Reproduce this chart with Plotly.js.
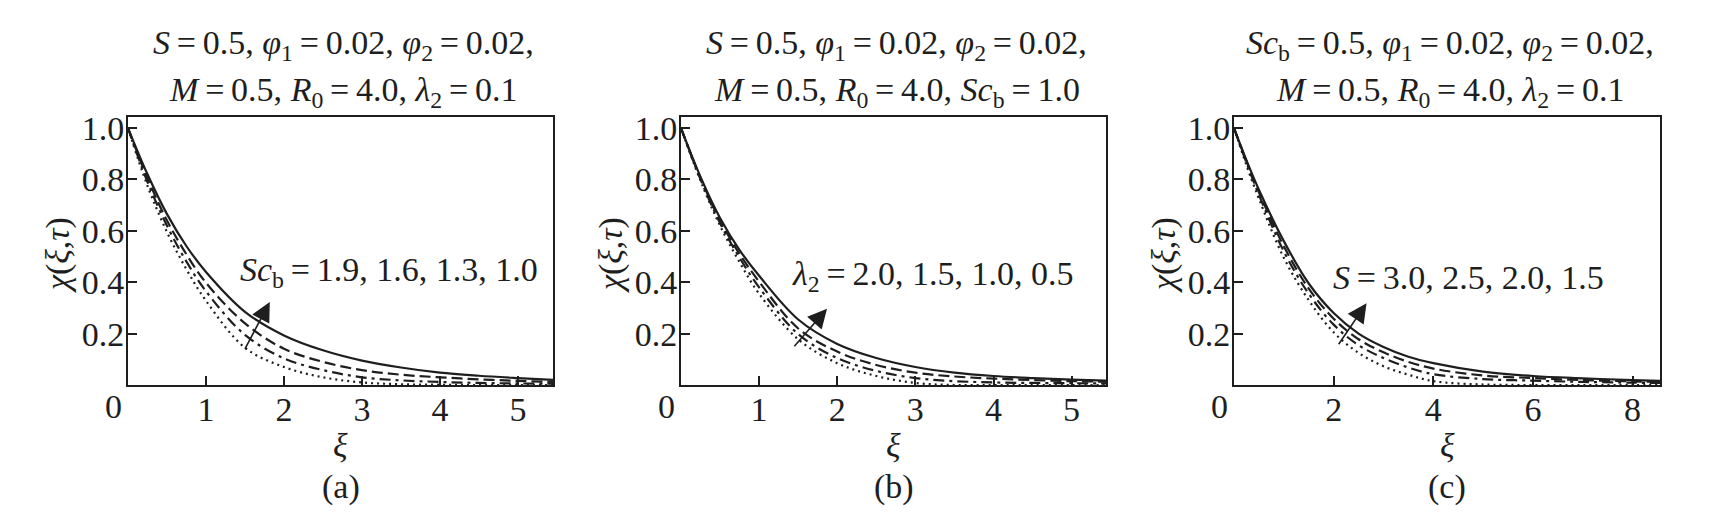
<!DOCTYPE html>
<html><head><meta charset="utf-8">
<script src="https://cdn.plot.ly/plotly-3.0.1.min.js"></script>
<style>html,body{margin:0;padding:0;background:#fff;}</style>
</head><body><div id="chart" style="width:1715px;height:523px;"></div>
<script>
// ---- Panel (a): varying Sc_b ----
const xiA = [0, 0.25, 0.5, 0.75, 1.0, 1.5, 2.0, 2.5, 3.0, 3.5, 4.0, 4.5, 5.0, 5.45];
const a_Sc10 = [1, 0.82, 0.665, 0.54, 0.44, 0.285, 0.193, 0.135, 0.095, 0.068, 0.048, 0.036, 0.027, 0.02];
const a_Sc13 = [1, 0.805, 0.64, 0.508, 0.398, 0.24, 0.141, 0.09, 0.058, 0.04, 0.03, 0.022, 0.016, 0.012];
const a_Sc16 = [1, 0.79, 0.62, 0.48, 0.365, 0.195, 0.104, 0.058, 0.03, 0.018, 0.012, 0.008, 0.006, 0.005];
const a_Sc19 = [1, 0.775, 0.595, 0.45, 0.328, 0.145, 0.07, 0.03, 0.01, 0.003, 0.001, 0, 0, 0];

// ---- Panel (b): varying lambda_2 ----
const xiB = [0, 0.25, 0.5, 0.75, 1.0, 1.5, 2.0, 2.5, 3.0, 3.5, 4.0, 4.5, 5.0, 5.44];
const b_l05 = [1, 0.81, 0.65, 0.525, 0.425, 0.255, 0.16, 0.105, 0.07, 0.048, 0.035, 0.027, 0.021, 0.017];
const b_l10 = [1, 0.805, 0.64, 0.51, 0.402, 0.22, 0.13, 0.078, 0.048, 0.033, 0.025, 0.019, 0.015, 0.013];
const b_l15 = [1, 0.8, 0.63, 0.495, 0.38, 0.198, 0.105, 0.055, 0.027, 0.015, 0.01, 0.008, 0.007, 0.006];
const b_l20 = [1, 0.795, 0.62, 0.478, 0.355, 0.178, 0.085, 0.035, 0.008, 0, 0, 0, 0, 0];

// ---- Panel (c): varying S ----
const xiC = [0, 0.25, 0.5, 1.0, 1.5, 2.0, 2.5, 3.0, 3.5, 4.0, 5.0, 6.0, 7.0, 8.0, 8.55];
const c_S15 = [1, 0.875, 0.76, 0.56, 0.395, 0.28, 0.2, 0.148, 0.11, 0.085, 0.052, 0.035, 0.026, 0.019, 0.016];
const c_S20 = [1, 0.87, 0.75, 0.54, 0.375, 0.258, 0.178, 0.127, 0.09, 0.064, 0.037, 0.027, 0.019, 0.014, 0.012];
const c_S25 = [1, 0.865, 0.74, 0.52, 0.355, 0.235, 0.155, 0.105, 0.068, 0.042, 0.023, 0.017, 0.012, 0.009, 0.008];
const c_S30 = [1, 0.855, 0.725, 0.495, 0.33, 0.205, 0.125, 0.073, 0.04, 0.015, 0.002, 0, 0, 0, 0];

const ticksA = [1, 2, 3, 4, 5];
const ticksC = [2, 4, 6, 8];
const ticksY = [0.2, 0.4, 0.6, 0.8, 1.0];
const ticksYText = ['0.2', '0.4', '0.6', '0.8', '1.0'];

const W = 1715, H = 523;
const FONT = 'Liberation Serif, Times New Roman, serif';
const INK = '#1e1e1e';
const FS = 34;

const styles = ['solid', '11px,5px', '11px,5px,3px,5px', '2px,4px'];

function tr(x, y, k, n) {
  return {x: x, y: y, xaxis: 'x' + (n > 1 ? n : ''), yaxis: 'y' + (n > 1 ? n : ''),
    mode: 'lines', line: {color: INK, width: 2.2, dash: styles[k], shape: 'spline', smoothing: 1.0},
    hoverinfo: 'skip', showlegend: false};
}

const data = [
  tr(xiA, a_Sc10, 0, 1), tr(xiA, a_Sc13, 1, 1), tr(xiA, a_Sc16, 2, 1), tr(xiA, a_Sc19, 3, 1),
  tr(xiB, b_l05, 0, 2), tr(xiB, b_l10, 1, 2), tr(xiB, b_l15, 2, 2), tr(xiB, b_l20, 3, 2),
  tr(xiC, c_S15, 0, 3), tr(xiC, c_S20, 1, 3), tr(xiC, c_S25, 2, 3), tr(xiC, c_S30, 3, 3)
];

const panels = [
  {l: 128, r: 553, xr: [0, 5.45], tv: ticksA},
  {l: 681, r: 1106, xr: [0, 5.44], tv: ticksA},
  {l: 1234, r: 1660, xr: [0, 8.55], tv: ticksC}
];
const TOP = 117, BOT = 385;

const layout = {
  width: W, height: H, margin: {l: 0, r: 0, t: 0, b: 0},
  paper_bgcolor: '#fff', plot_bgcolor: '#fff', showlegend: false,
  font: {family: FONT, size: FS, color: INK},
  annotations: [], shapes: []
};

panels.forEach((p, i) => {
  const n = i + 1, sfx = n > 1 ? n : '';
  layout['xaxis' + sfx] = {
    domain: [p.l / W, p.r / W], range: p.xr, anchor: 'y' + sfx,
    tickmode: 'array', tickvals: p.tv, ticks: 'inside', ticklen: 9, tickwidth: 2, tickcolor: INK,
    showline: true, mirror: true, linewidth: 2, linecolor: INK, ticklabelstandoff: -7,
    showgrid: false, zeroline: false, tickfont: {family: FONT, size: FS, color: INK}
  };
  layout['yaxis' + sfx] = {
    domain: [1 - BOT / H, 1 - TOP / H], range: [0, 1.043], anchor: 'x' + sfx,
    tickmode: 'array', tickvals: ticksY, ticktext: ticksYText, ticks: 'inside', ticklen: 9, tickwidth: 2, tickcolor: INK,
    showline: true, mirror: true, linewidth: 2, linecolor: INK, ticklabelstandoff: -5,
    showgrid: false, zeroline: false, tickfont: {family: FONT, size: FS, color: INK}
  };
});

function ann(text, px, py, extra) {
  return Object.assign({text: text, xref: 'paper', yref: 'paper', x: px / W, y: 1 - py / H,
    xanchor: 'center', yanchor: 'middle', showarrow: false,
    font: {family: FONT, size: FS, color: INK}}, extra || {});
}

const sp = '\u2009';
const eq = sp + '=' + sp;
const line1 = '<i>S</i>' + eq + '0.5, <i>φ</i><sub>1</sub>' + eq + '0.02, <i>φ</i><sub>2</sub>' + eq + '0.02,';
const line1c = '<i>Sc</i><sub>b</sub>' + eq + '0.5, <i>φ</i><sub>1</sub>' + eq + '0.02, <i>φ</i><sub>2</sub>' + eq + '0.02,';
const line2 = '<i>M</i>' + eq + '0.5, <i>R</i><sub>0</sub>' + eq + '4.0, <i>λ</i><sub>2</sub>' + eq + '0.1';
const line2b = '<i>M</i>' + eq + '0.5, <i>R</i><sub>0</sub>' + eq + '4.0, <i>Sc</i><sub>b</sub>' + eq + '1.0';

const titles = [[line1, line2], [line1, line2b], [line1c, line2]];
const labels = ['(a)', '(b)', '(c)'];
const inner = [
  '<i>Sc</i><sub>b</sub>' + eq + '1.9, 1.6, 1.3, 1.0',
  '<i>λ</i><sub>2</sub>' + eq + '2.0, 1.5, 1.0, 0.5',
  '<i>S</i>' + eq + '3.0, 2.5, 2.0, 1.5'
];
const innerPos = [[1.41, 0.44], [1.39, 0.424], [1.95, 0.419]];
const arrows = [[1.49, 0.135, 1.818, 0.323], [1.434, 0.145, 1.869, 0.297], [2.08, 0.153, 2.66, 0.318]];

panels.forEach((p, i) => {
  const n = i + 1, sfx = n > 1 ? n : '';
  const cx = (p.l + p.r) / 2;
  layout.annotations.push(ann(titles[i][0], cx + 3, 45));
  layout.annotations.push(ann(titles[i][1], cx + 3, 92));
  layout.annotations.push(ann('<i>ξ</i>', cx, 445));
  layout.annotations.push(ann(labels[i], cx, 487));
  layout.annotations.push(ann('<i>χ</i>(<i>ξ</i>,<i>τ</i>)', p.l - 70, 255, {textangle: -90}));
  layout.annotations.push(ann('0', p.l - 14.5, 406));
  layout.annotations.push({text: inner[i], xref: 'x' + sfx, yref: 'y' + sfx, x: innerPos[i][0], y: innerPos[i][1],
    xanchor: 'left', yanchor: 'middle', showarrow: false, font: {family: FONT, size: FS, color: INK}});
  const a = arrows[i];
  layout.annotations.push({text: '', xref: 'x' + sfx, yref: 'y' + sfx, axref: 'x' + sfx, ayref: 'y' + sfx,
    x: a[2], y: a[3], ax: a[0], ay: a[1], showarrow: true, arrowhead: 2, arrowsize: 2.4, arrowwidth: 1.6,
    arrowcolor: INK, standoff: 0, startstandoff: 0});
});

Plotly.newPlot('chart', data, layout, {displayModeBar: false, staticPlot: true});
</script>
</body></html>
